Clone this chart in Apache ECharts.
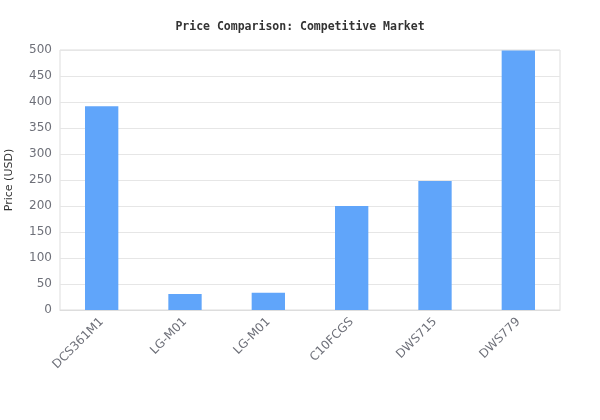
<!DOCTYPE html>
<html><head><meta charset="utf-8">
<script src="https://cdn.jsdelivr.net/npm/echarts@6/dist/echarts.min.js"></script>
<style>html,body{margin:0;padding:0;background:#fff}#c{width:600px;height:420px}</style>
</head><body><div id="c"></div>
<script>
const categories = ["DCS361M1", "LG-M01", "LG-M01", "C10FCGS", "DWS715", "DWS779"];
const prices = [392, 31, 33, 200, 248, 499];
const chart = echarts.init(document.getElementById('c'));
chart.setOption({
  animation: false,
  textStyle: { fontFamily: 'DejaVu Sans' },
  title: {
    text: 'Price Comparison: Competitive Market',
    left: 'center', top: 16,
    textStyle: { fontFamily: 'DejaVu Sans Mono', fontWeight: 'bold', fontSize: 11.5, color: '#333' }
  },
  grid: { left: 60, right: 40, top: 50, bottom: 110, show: true, borderColor: '#ddd', borderWidth: 1, containLabel: false, outerBoundsMode: 'none' },
  xAxis: {
    type: 'category', data: categories,
    axisLine: { lineStyle: { color: '#ddd' } },
    axisTick: { show: false },
    axisLabel: { rotate: 45, color: '#6e7079', fontSize: 12, fontFamily: 'DejaVu Sans', margin: 10, interval: 0 }
  },
  yAxis: {
    type: 'value', min: 0, max: 500, interval: 50,
    name: 'Price (USD)', nameLocation: 'middle', nameGap: 45,
    nameTextStyle: { color: '#333', fontSize: 11, fontFamily: 'DejaVu Sans' },
    axisLine: { show: false }, axisTick: { show: false },
    axisLabel: { color: '#6e7079', fontSize: 12, fontFamily: 'DejaVu Sans' },
    splitLine: { lineStyle: { color: '#e6e6e6' } }
  },
  series: [{ type: 'bar', data: prices, barWidth: '40%', itemStyle: { color: '#60a5fa' } }]
});
</script></body></html>
